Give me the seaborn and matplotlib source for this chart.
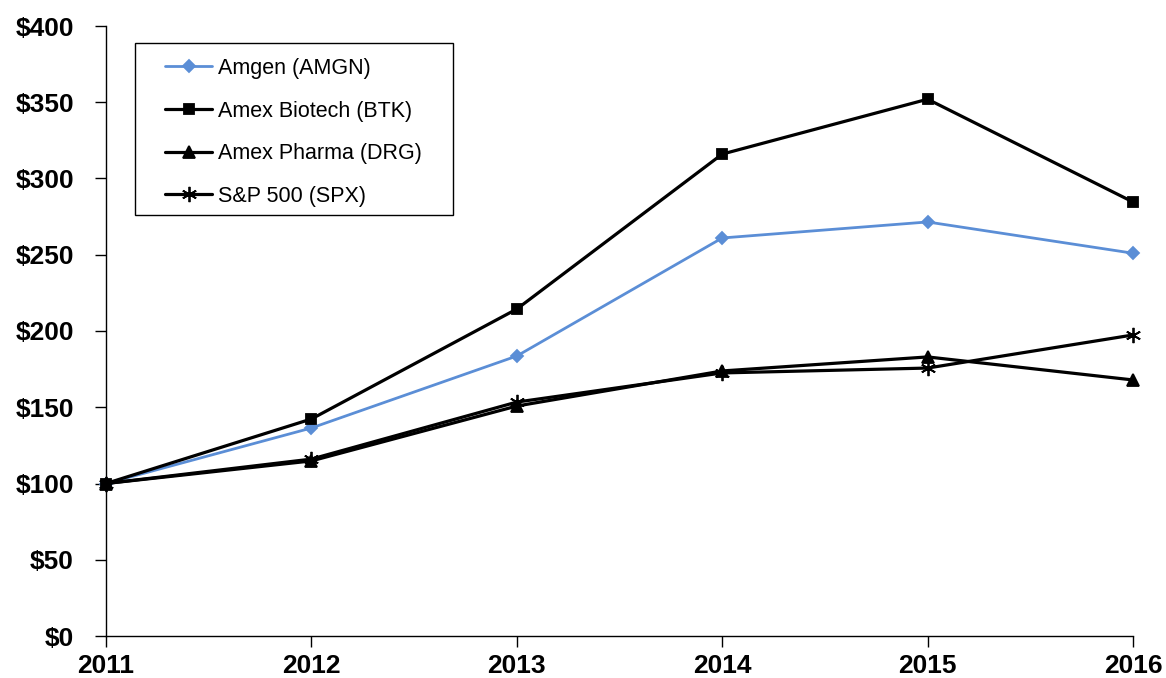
import matplotlib
matplotlib.use("Agg")
import matplotlib.pyplot as plt
import matplotlib.patches as mpatches
import seaborn as sns
import pandas as pd

years = [2011, 2012, 2013, 2014, 2015, 2016]
amgn = [100, 136.4, 183.6, 261.0, 271.5, 251.0]
btk = [100, 142.3, 214.4, 316.0, 352.0, 284.6]
drg = [100, 114.8, 150.8, 173.8, 183.0, 167.9]
spx = [100, 116.0, 153.4, 172.5, 175.7, 197.4]
labels = ["Amgen (AMGN)", "Amex Biotech (BTK)", "Amex Pharma (DRG)", "S&P 500 (SPX)"]
yticks = [0, 50, 100, 150, 200, 250, 300, 350, 400]

sns.set_theme(style="white")
plt.rcParams['font.family'] = ['Liberation Sans', 'DejaVu Sans']
plt.rcParams['text.color'] = 'black'
plt.rcParams['xtick.color'] = 'black'
plt.rcParams['ytick.color'] = 'black'

W, H = 1166, 678
fig = plt.figure(figsize=(W/100, H/100), dpi=100)
ax = fig.add_axes([106/W, 42/H, (1133-106)/W, (636-26)/H])

series = [
    (amgn, labels[0], '#5b8ed6', 'D', 6.5, 2.0),
    (btk, labels[1], 'black', 's', 7, 2.3),
    (drg, labels[2], 'black', '^', 8, 2.3),
    (spx, labels[3], 'black', (6, 2, 0), 11, 2.3),
]
for vals, lab, col, mk, ms, lw in series:
    df = pd.DataFrame({"year": years, "value": vals})
    sns.lineplot(data=df, x="year", y="value", ax=ax, color=col, marker=mk,
                 markersize=ms, linewidth=lw, label=lab, clip_on=False,
                 markeredgecolor=col, markeredgewidth=1.3)

ax.set_xlim(2011, 2016)
ax.set_ylim(0, 400)
ax.set_xticks(years)
ax.set_xticklabels([str(y) for y in years])
ax.set_yticks(yticks)
ax.set_yticklabels([f"${v}" for v in yticks])
ax.set_xlabel("")
ax.set_ylabel("")
for s in ["top", "right"]:
    ax.spines[s].set_visible(False)
for s in ["left", "bottom"]:
    ax.spines[s].set_color("black")
    ax.spines[s].set_linewidth(1.0)
ax.tick_params(axis="both", which="major", direction="out", length=8, width=1.0,
               color="black", labelcolor="black", labelsize=19, bottom=True, left=True)
ax.tick_params(axis="y", pad=15)
ax.tick_params(axis="x", pad=5)
for t in ax.get_xticklabels() + ax.get_yticklabels():
    t.set_fontweight("bold")
ax.grid(False)

# legend frame drawn as a rectangle (box 135..453 x 43..215 px)
frame = mpatches.Rectangle((135/W, 1 - 215/H), (453-135)/W, (215-43)/H,
                           transform=fig.transFigure, fill=True, facecolor="white",
                           edgecolor="black", linewidth=1.0, zorder=5, clip_on=False)
ax.add_artist(frame)

leg = ax.legend(loc="upper left", bbox_to_anchor=(165/W, 1 - 58/H),
                bbox_transform=fig.transFigure,
                fontsize=15.5, frameon=False,
                handlelength=2.2, labelspacing=1.0, borderpad=0,
                handletextpad=0.25, borderaxespad=0)
leg.set_zorder(6)
for t in leg.get_texts():
    t.set_color("black")

fig.savefig("out.png", dpi=100)
